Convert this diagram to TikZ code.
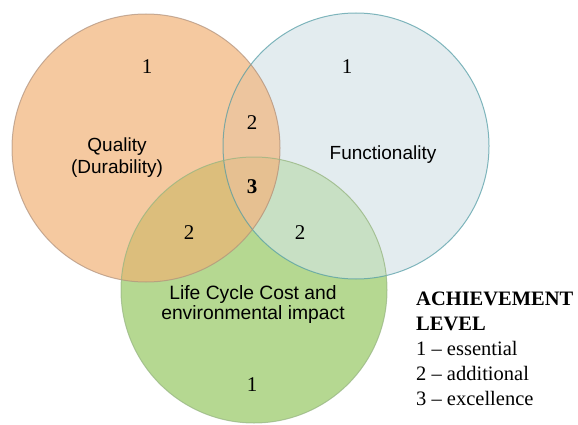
\documentclass[tikz,border=0pt]{standalone}
\usepackage{fontspec}
\setmainfont{Liberation Serif}
\setsansfont{Liberation Sans}
\usetikzlibrary{positioning}

\definecolor{qualfill}{RGB}{245,201,160}
\definecolor{funcfill}{RGB}{227,236,239}
\definecolor{lccfill}{RGB}{181,216,145}
\definecolor{qfover}{RGB}{237,197,158}
\definecolor{qlover}{RGB}{220,190,124}
\definecolor{flover}{RGB}{200,224,196}
\definecolor{allover}{RGB}{230,192,145}
\definecolor{qualline}{RGB}{175,145,125}
\definecolor{funcline}{RGB}{78,154,163}
\definecolor{lccline}{RGB}{150,180,130}

\begin{document}
\begin{tikzpicture}[x=1pt, y=-1pt,
  area/.style={font=\sffamily\fontsize{19}{22}\selectfont, align=center},
  lvl/.style={font=\fontsize{21}{24}\selectfont},
  rim/.style={line width=1pt, draw opacity=0.7},
  legend/.style={font=\fontsize{20.5}{25}\selectfont, align=left, inner sep=0pt}]
\useasboundingbox (0,0) rectangle (578,425);
\coordinate (qual) at (146,148);
\coordinate (func) at (356,146);
\coordinate (lcc) at (254,290);

% Circles
\fill[funcfill] (func) circle (133pt);
\fill[qualfill] (qual) circle (134pt);
\fill[lccfill] (lcc) circle (133pt);
\begin{scope}
  \clip (func) circle (133pt);
  \fill[flover] (lcc) circle (133pt);
\end{scope}
\begin{scope}
  \clip (qual) circle (134pt);
  \fill[qfover] (func) circle (133pt);
  \fill[qlover] (lcc) circle (133pt);
  \clip (func) circle (133pt);
  \fill[allover] (lcc) circle (133pt);
\end{scope}
\draw[rim, funcline] (func) circle (133pt);
\draw[rim, qualline] (qual) circle (134pt);
\draw[rim, lccline] (lcc) circle (133pt);

% Labels
\node[area] (qlabel) at (117,158) {Quality\\(Durability)};
\node[area] (flabel) at (383,155) {Functionality};
\node[area, font=\sffamily\fontsize{19.3}{20}\selectfont] (llabel) at (253,305) {Life Cycle Cost and\\environmental impact};

% Levels
\node[lvl] (q1) at (147,67) {1};
\node[lvl] (f1) at (347,67) {1};
\node[lvl] (l1) at (252,385) {1};
\node[lvl] (qf2) at (252,123) {2};
\node[lvl] (ql2) at (189,233) {2};
\node[lvl] (fl2) at (300,233) {2};
\node[lvl, font=\bfseries\fontsize{21}{24}\selectfont] (all3) at (252,187) {3};

\node[legend, anchor=north west] (key) at (416,292) {\textbf{ACHIEVEMENT}\\\textbf{LEVEL}\\1 -- essential\\2 -- additional\\3 -- excellence};
\end{tikzpicture}
\end{document}
